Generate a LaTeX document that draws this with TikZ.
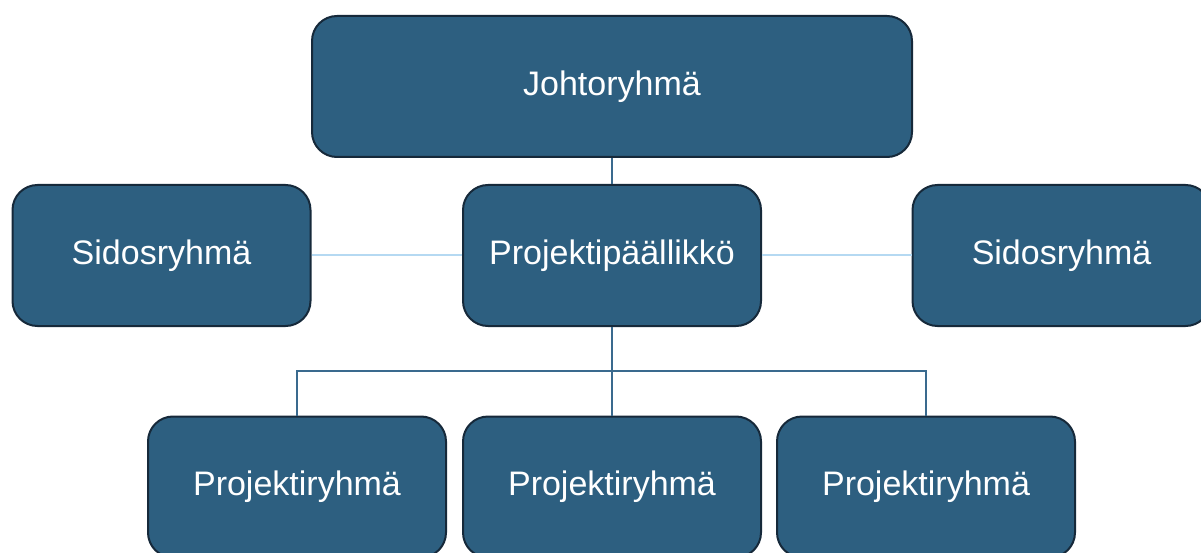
\documentclass[tikz,border=0pt]{standalone}
\usepackage{fontspec}
\setmainfont{Liberation Sans}
\definecolor{boxfill}{HTML}{2D5F80}
\definecolor{boxline}{HTML}{16293A}
\definecolor{treeline}{HTML}{3A6A8E}
\definecolor{sideline}{HTML}{B5D9F2}
\begin{document}
\begin{tikzpicture}[x=1pt,y=-1pt,
  orgbox/.style={draw=boxline, line width=2pt, fill=boxfill, rounded corners=25pt,
    minimum width=298pt, minimum height=141pt, inner sep=0pt, text=white,
    font=\fontsize{34}{40}\selectfont},
  treelink/.style={draw=treeline, line width=2.2pt},
  sidelink/.style={draw=sideline, line width=2pt}]
\useasboundingbox (0,0) rectangle (1201,553);
\clip (0,0) rectangle (1201,553);
% boxes
\node[orgbox, minimum width=600pt] (top) at (612,86.5) {Johtoryhmä};
\node[orgbox] (sideL) at (161.5,255.5) {Sidosryhmä};
\node[orgbox] (pm) at (612,255.5) {Projektipäällikkö};
\node[orgbox] (sideR) at (1061.5,255.5) {Sidosryhmä};
\node[orgbox] (teamL) at (297,487) {Projektiryhmä};
\node[orgbox] (teamM) at (612,487) {Projektiryhmä};
\node[orgbox] (teamR) at (926,487) {Projektiryhmä};
% connectors
\coordinate (bus) at (612,371);
\draw[treelink] (top.south) -- (pm.north);
\draw[treelink] (pm.south) -- (teamM.north);
\draw[treelink] (teamL.north) |- (bus) -| (teamR.north);
\draw[sidelink] (sideL.east) -- (pm.west);
\draw[sidelink] (pm.east) -- (sideR.west);
\end{tikzpicture}
\end{document}
